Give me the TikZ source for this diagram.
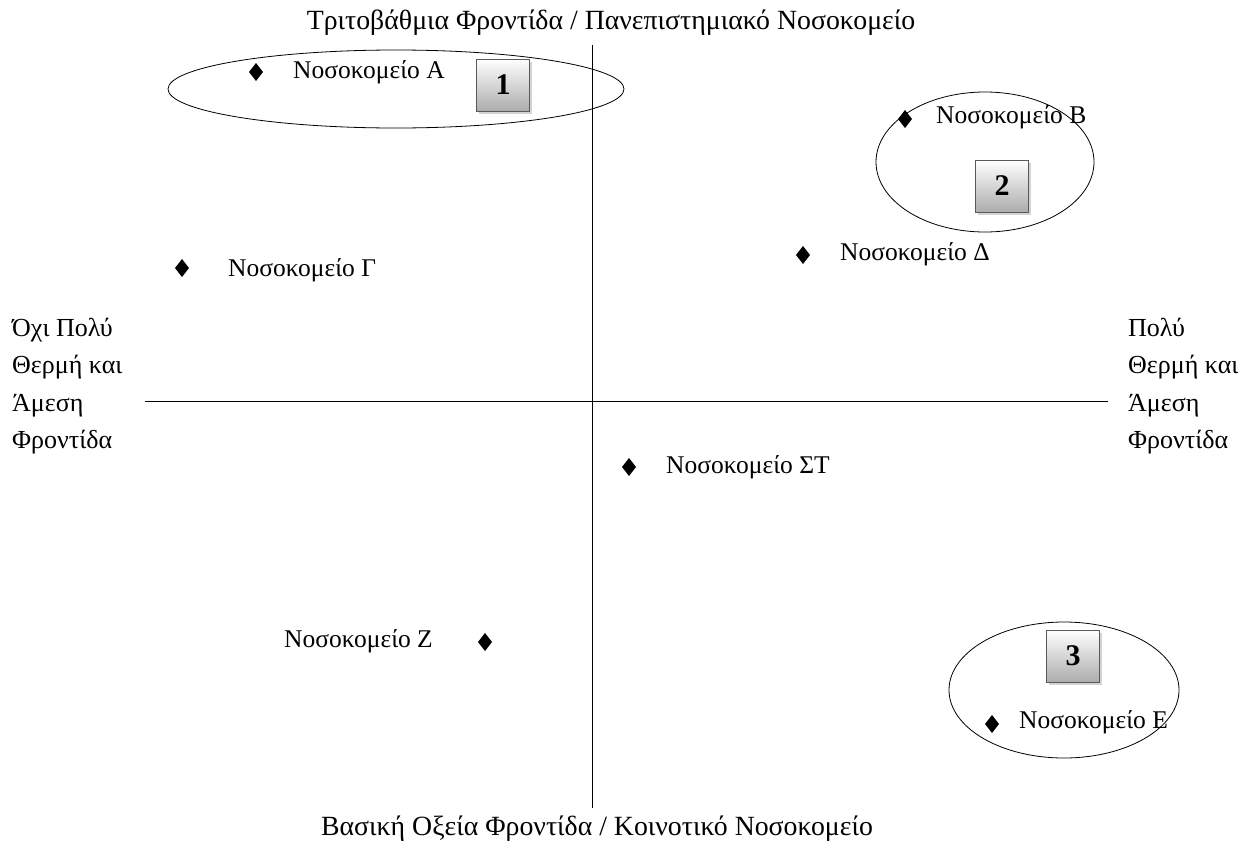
\documentclass[tikz,border=0pt]{standalone}
\usepackage{fontspec}
\setmainfont{Liberation Serif}
\usetikzlibrary{shadows}
\begin{document}
\begin{tikzpicture}[x=1pt,y=-1pt,
  lbl/.style={anchor=west,inner sep=0pt,font=\fontsize{25.5}{30}\selectfont},
  axislbl/.style={inner sep=0pt,font=\fontsize{27.8}{30}\selectfont},
  sidelbl/.style={anchor=west,align=left,inner sep=0pt,font=\fontsize{26}{37.5}\selectfont},
  numbox/.style={draw=gray!70!black,line width=0.6pt,minimum width=53pt,minimum height=52pt,
    top color=white,bottom color=gray!65,inner sep=0pt,
    font=\fontsize{30}{34}\selectfont\bfseries,
    drop shadow={shadow xshift=2pt,shadow yshift=-3pt,opacity=0.35}},
  group/.style={draw,line width=0.8pt}
]
\useasboundingbox (0,0) rectangle (1252,841);

% axes
\coordinate (vt) at (592,45);
\coordinate (vb) at (592,808);
\coordinate (hl) at (145,401);
\coordinate (hr) at (1108,401);
\draw[line width=0.8pt] (vt) -- (vb);
\draw[line width=0.8pt] (hl) -- (hr);

% axis titles
\node[axislbl] (ttop) at (611,23) {Τριτοβάθμια Φροντίδα / Πανεπιστημιακό Νοσοκομείο};
\node[axislbl] (tbot) at (597,829) {Βασική Οξεία Φροντίδα / Κοινοτικό Νοσοκομείο};
\node[sidelbl] (tleft) at (12,386) {Όχι Πολύ\\Θερμή και\\Άμεση\\Φροντίδα};
\node[sidelbl] (tright) at (1128,386) {Πολύ\\Θερμή και\\Άμεση\\Φροντίδα};

% groupings
\draw[group] (396,89) ellipse [x radius=228, y radius=39];
\draw[group] (985,162) ellipse [x radius=109, y radius=70];
\draw[group] (1064,690) ellipse [x radius=115, y radius=68];

% numbered boxes
\node[numbox] (n1) at (503,85) {1};
\node[numbox] (n2) at (1002,186) {2};
\node[numbox] (n3) at (1073,656) {3};

% hospital markers
\coordinate (dA) at (256,72);
\coordinate (dB) at (905,119);
\coordinate (dG) at (182,268);
\coordinate (dD) at (803,255);
\coordinate (dST) at (629,467);
\coordinate (dZ) at (485,642);
\coordinate (dE) at (992,724);
\foreach \p in {dA,dB,dG,dD,dST,dZ,dE}{
  \fill (\p) ++(0,-9) -- ++(7,9) -- ++(-7,9) -- ++(-7,-9) -- cycle;}

% hospital names
\node[lbl] (lA) at (293,72) {Νοσοκομείο Α};
\node[lbl] (lB) at (936,117) {Νοσοκομείο Β};
\node[lbl] (lG) at (228,270) {Νοσοκομείο Γ};
\node[lbl] (lD) at (840,254) {Νοσοκομείο Δ};
\node[lbl] (lST) at (666,467) {Νοσοκομείο ΣΤ};
\node[lbl,anchor=east] (lZ) at (433,641) {Νοσοκομείο Ζ};
\node[lbl] (lE) at (1019,722) {Νοσοκομείο Ε};
\end{tikzpicture}
\end{document}
